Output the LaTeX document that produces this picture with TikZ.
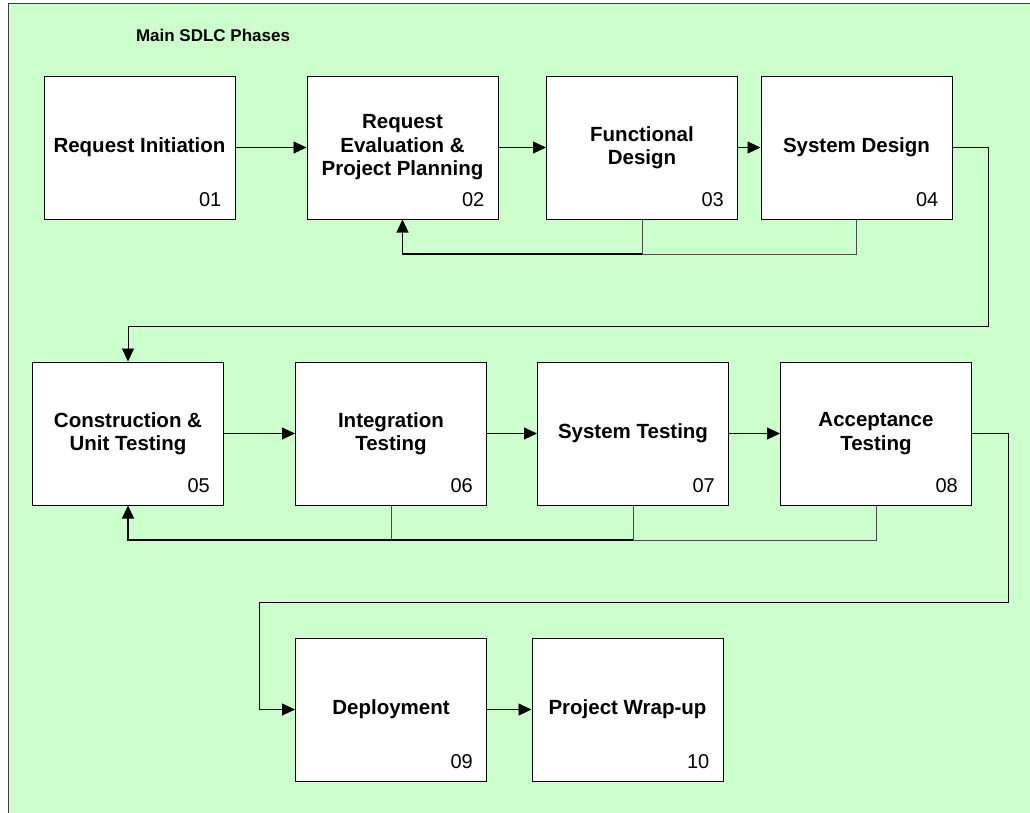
\documentclass[tikz,border=0pt]{standalone}
\usepackage{fontspec}
\setmainfont{Liberation Sans}
\usetikzlibrary{arrows.meta}
\definecolor{bggreen}{HTML}{CCFFCC}
\begin{document}
\begin{tikzpicture}[x=1pt,y=-1pt,
 box/.style={draw=black, fill=white, line width=1pt, minimum width=191pt, minimum height=143pt, inner sep=0pt, align=center, font=\fontsize{20.5}{23.5}\selectfont\bfseries},
 num/.style={anchor=base east, font=\fontsize{20}{24}\selectfont, inner sep=0pt},
 arr/.style={-{Triangle[length=13pt,width=12pt]}, line width=0.9pt, draw=black},
 ln/.style={line width=0.9pt, draw=black!70}]
\useasboundingbox (0,0) rectangle (1030,812);
\clip (0,0) rectangle (1030,812);
\fill[white] (0,0) rectangle (1030,812);
\draw[fill=bggreen, draw=black!75, line width=1.2pt] (8.5,3.5) rectangle (1040,820);

\node[font=\fontsize{17}{20}\selectfont\bfseries] (title) at (213,35) {Main SDLC Phases};

% row 1
\node[box] (b01) at (139.5,147.5) {Request Initiation};
\node[box] (b02) at (402.5,147.5) {Request\\Evaluation \&\\Project Planning};
\node[box] (b03) at (642,147.5) {Functional\\Design};
\node[box] (b04) at (856.5,147.5) {System Design};
% row 2
\node[box] (b05) at (128,433.5) {Construction \&\\Unit Testing};
\node[box] (b06) at (391,433.5) {Integration\\Testing};
\node[box] (b07) at (633,433.5) {System Testing};
\node[box] (b08) at (876,433.5) {Acceptance\\Testing};
% row 3
\node[box] (b09) at (391,709.5) {Deployment};
\node[box] (b10) at (627.5,709.5) {Project Wrap-up};

% numbers
\foreach \b/\t in {b01/01,b02/02,b03/03,b04/04,b05/05,b06/06,b07/07,b08/08,b09/09,b10/10}
  \node[num] (n\t) at ([xshift=-14pt,yshift=13pt]\b.south east) {\t};

% coordinates for routing
\coordinate (r1) at (988,326);
\coordinate (r2) at (1008,602);
\coordinate (r3) at (259,602);
\coordinate (fb1) at (402.5,254);
\coordinate (fb2) at (128,540);

% forward flow
\draw[arr] (b01.east) -- (b02.west);
\draw[arr] (b02.east) -- (b03.west);
\draw[arr] (b03.east) -- (b04.west);
\draw[arr] (b04.east) -| (r1) -| (b05.north);
\draw[arr] (b05.east) -- (b06.west);
\draw[arr] (b06.east) -- (b07.west);
\draw[arr] (b07.east) -- (b08.west);
\draw[arr] (b08.east) -| (r2) -- (r3) |- (b09.west);
\draw[arr] (b09.east) -- (b10.west);

% feedback row 1
\draw[ln] (b04.south) |- (fb1);
\draw[ln] (b03.south) |- (fb1);
\draw[arr, line width=1.3pt] (b03.south |- fb1) -- (fb1) -- (b02.south);

% feedback row 2
\draw[ln] (b08.south) |- (fb2);
\draw[ln] (b07.south) |- (fb2);
\draw[ln] (b06.south) |- (fb2);
\draw[arr, line width=1.6pt] (b07.south |- fb2) -- (fb2) -- (b05.south);
\end{tikzpicture}
\end{document}
